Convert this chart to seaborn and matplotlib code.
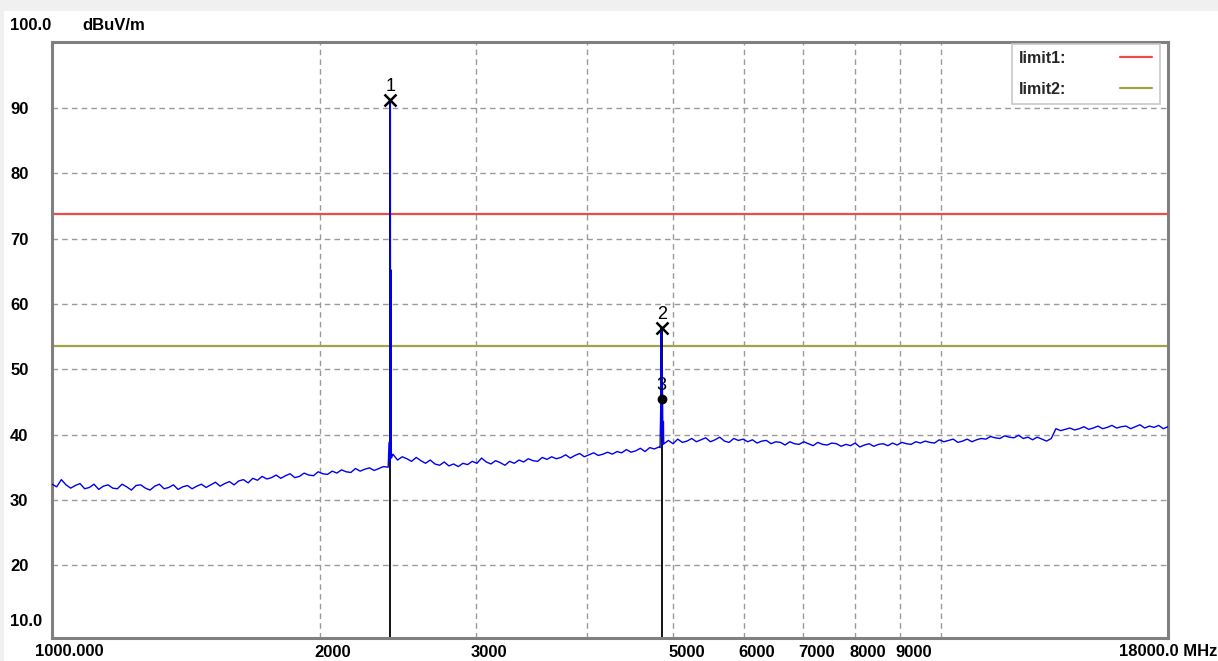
import numpy as np
import pandas as pd
import matplotlib
matplotlib.use("Agg")
import matplotlib.pyplot as plt
import seaborn as sns
from matplotlib.ticker import FixedLocator, NullLocator, NullFormatter
from matplotlib.lines import Line2D
from matplotlib.patches import Rectangle

# ---------------- data ----------------
sweep_start, sweep_stop, sweep_points = 1000.0, 18000.0, 240

noise_floor = [
    32.4, 32.0, 33.1, 32.3, 31.8, 32.2, 32.5, 31.7, 31.9, 32.4,
    31.6, 32.1, 32.3, 31.8, 31.7, 32.4, 32.0, 31.5, 32.2, 32.3,
    31.8, 31.5, 32.1, 32.4, 31.7, 31.9, 32.3, 31.6, 32.0, 32.2,
    31.7, 32.1, 32.4, 31.9, 32.3, 32.7, 32.1, 32.5, 32.8, 32.3,
    32.9, 33.1, 32.6, 33.3, 33.0, 33.6, 33.2, 33.4, 33.8, 33.3,
    33.7, 34.0, 33.4, 33.6, 34.1, 33.8, 33.7, 34.3, 34.0, 33.9,
    34.4, 34.1, 34.6, 34.3, 34.2, 34.8, 34.4, 34.7, 34.9, 34.5,
    34.8, 35.1, 35.0, 37.0, 36.1, 36.6, 36.3, 35.9, 36.5, 36.0,
    35.6, 36.1, 35.5, 35.3, 35.8, 35.2, 35.5, 35.1, 35.6, 35.4,
    35.9, 35.6, 36.4, 35.8, 35.5, 36.0, 35.7, 35.3, 35.9, 35.6,
    36.1, 35.8, 36.3, 36.0, 35.9, 36.5, 36.2, 36.6, 36.3, 36.5,
    36.9, 36.4, 36.8, 37.1, 36.6, 36.9, 37.2, 36.8, 37.0, 37.3,
    37.0, 37.4, 37.2, 37.7, 37.3, 37.5, 37.9, 37.4, 38.0, 37.8,
    38.1, 38.8, 39.1, 38.6, 39.3, 38.8, 39.0, 39.4, 38.9, 39.2,
    39.5, 38.9, 39.2, 39.6, 39.0, 38.8, 39.4, 39.1, 39.3, 38.9,
    39.2, 38.7, 39.0, 39.1, 38.6, 38.9, 38.8, 38.4, 38.9, 38.6,
    38.5, 38.9, 38.6, 38.3, 38.8, 38.5, 38.4, 38.7, 38.6, 38.2,
    38.5, 38.3, 38.7, 38.1, 38.4, 38.6, 38.2, 38.5, 38.6, 38.3,
    38.7, 38.4, 38.8, 38.6, 38.5, 38.9, 38.7, 39.0, 38.8, 38.7,
    39.2, 38.9, 39.1, 39.3, 38.8, 39.0, 39.3, 38.9, 39.2, 39.4,
    39.3, 39.7, 39.5, 39.4, 39.8, 39.6, 39.5, 39.9, 39.4, 39.6,
    39.2, 39.6, 39.3, 39.0, 39.4, 40.9, 40.6, 40.8, 41.0, 40.7,
    40.9, 41.2, 40.8, 41.0, 41.3, 40.9, 41.1, 41.4, 41.0, 41.2,
    41.3, 40.9, 41.2, 41.5, 41.0, 41.3, 41.1, 41.4, 40.9, 41.2,
]

peak1_freq = [2394, 2399, 2401, 2402, 2403, 2405, 2406, 2407, 2409]
peak1_level = [38.8, 36.0, 37.5, 91.2, 36.5, 40.0, 65.2, 37.0, 36.4]

peak2_freq = [4830, 4838, 4842, 4846, 4850, 4854, 4858, 4866, 4872, 4880]
peak2_level = [38.0, 44.0, 56.3, 40.0, 51.0, 47.0, 50.0, 38.5, 42.0, 38.6]

marker_ids = ["1", "2", "3"]
marker_freq = [2402, 4850, 4850]
marker_level = [91.2, 56.3, 45.4]

limit_names = ["limit1:", "limit2:"]
limit_levels = [73.8, 53.6]

grid_x = [2000, 3000, 4000, 5000, 6000, 7000, 8000, 9000, 10000]
x_label_values = [2000, 3000, 5000, 6000, 7000, 8000, 9000]
x_label_texts = ["2000", "3000", "5000", "6000", "7000", "8000", "9000"]
y_tick_values = [20, 30, 40, 50, 60, 70, 80, 90]
y_tick_texts = ["20", "30", "40", "50", "60", "70", "80", "90"]

# ---------------- assemble trace ----------------
sweep_freq = np.geomspace(sweep_start, sweep_stop, sweep_points)
trace = pd.DataFrame({
    "freq": np.concatenate([sweep_freq, peak1_freq, peak2_freq]),
    "level": np.concatenate([noise_floor, peak1_level, peak2_level]),
}).sort_values("freq").reset_index(drop=True)

# ---------------- figure ----------------
sns.set_theme(style="white")
plt.rcParams["font.family"] = ["Liberation Sans", "DejaVu Sans"]

W, H = 1218, 661
fig = plt.figure(figsize=(W / 100, H / 100), dpi=100, facecolor="white")
fig.patches.append(Rectangle((0, 1 - 11 / H), 1, 11 / H, transform=fig.transFigure,
                             facecolor="#f0f0f0", edgecolor="none", zorder=0))
fig.patches.append(Rectangle((0, 0), 4 / W, 1, transform=fig.transFigure,
                             facecolor="#f0f0f0", edgecolor="none", zorder=0))

left, right, top, bottom = 52, 1168, 42, 637.7
ax = fig.add_axes([left / W, 1 - bottom / H, (right - left) / W, (bottom - top) / H])
ax.set_facecolor("white")
ax.set_xscale("log")
ax.set_xlim(sweep_start, sweep_stop)
ax.set_ylim(8.9, 100.1)

# grid
ax.xaxis.set_major_locator(FixedLocator(grid_x))
ax.xaxis.set_major_formatter(NullFormatter())
ax.xaxis.set_minor_locator(NullLocator())
ax.xaxis.set_minor_formatter(NullFormatter())
ax.set_yticks(y_tick_values, y_tick_texts)
ax.grid(True, color="#9a9a9a", linestyle=(0, (4, 3)), linewidth=1.0)
ax.tick_params(axis="both", length=0)
ax.tick_params(axis="y", pad=30.2, labelsize=12)
for lbl in ax.get_yticklabels():
    lbl.set_horizontalalignment("left")
    lbl.set_fontweight("bold")
    lbl.set_color("black")

for s in ax.spines.values():
    s.set_color("#808080")
    s.set_linewidth(2.2)

# limit lines
limit_colors = ["#ee4c4c", "#a3a345"]
for lv, c in zip(limit_levels, limit_colors):
    ax.axhline(lv, color=c, linewidth=1.6, zorder=2)

# marker verticals (black)
ax.vlines(marker_freq[:2], 8.9, [marker_level[0], marker_level[1]], color="black",
          linewidth=1.3, zorder=2)

# trace
sns.lineplot(data=trace, x="freq", y="level", ax=ax, color="#0000ee", linewidth=1.0,
             estimator=None, sort=False, zorder=3)
ax.set_xlabel("")
ax.set_ylabel("")

# markers
ax.plot(marker_freq[:2], marker_level[:2], linestyle="none", marker="x", color="black",
        markersize=8, markeredgewidth=1.8, zorder=5)
ax.plot(marker_freq[2:], marker_level[2:], linestyle="none", marker="o", color="black",
        markersize=6, zorder=5)
for mid, mf, ml in zip(marker_ids, marker_freq, marker_level):
    ax.annotate(mid, xy=(mf, ml), xytext=(0, 10), textcoords="offset points",
                ha="center", va="center", fontsize=13, color="black", zorder=6)

# legend
handles = [Line2D([0], [0], color=c, linewidth=1.6) for c in limit_colors]
leg = ax.legend(handles, limit_names, loc="upper right", bbox_to_anchor=(0.9925, 0.997),
                markerfirst=False, frameon=True, fancybox=False, framealpha=1,
                edgecolor="#c8c8c8", handlelength=2.0, handletextpad=3.4,
                labelspacing=1.0, borderpad=0.45, borderaxespad=0.0,
                prop={"weight": "bold", "size": 11.5})
leg.get_frame().set_linewidth(1.2)

# x labels (left-aligned just left of gridline)
for v, t in zip(x_label_values, x_label_texts):
    ax.annotate(t, xy=(v, 0), xycoords=("data", "axes fraction"),
                xytext=(-3.8, -10.4), textcoords="offset points",
                ha="left", va="center", fontsize=12, fontweight="bold", color="black",
                annotation_clip=False)

fig.text(35 / W, 1 - 652 / H, "1000.000", ha="left", va="center", fontsize=12,
         fontweight="bold", color="black")
fig.text(1 - 1 / W, 1 - 652 / H, "18000.0 MHz", ha="right", va="center", fontsize=12,
         fontweight="bold", color="black")
fig.text(10 / W, 1 - 26 / H, "100.0", ha="left", va="center", fontsize=12,
         fontweight="bold", color="black")
fig.text(82 / W, 1 - 26 / H, "dBuV/m", ha="left", va="center", fontsize=12,
         fontweight="bold", color="black")
fig.text(10 / W, 1 - 621 / H, "10.0", ha="left", va="center", fontsize=12,
         fontweight="bold", color="black")

fig.savefig("out.png", dpi=100, facecolor=fig.get_facecolor())
